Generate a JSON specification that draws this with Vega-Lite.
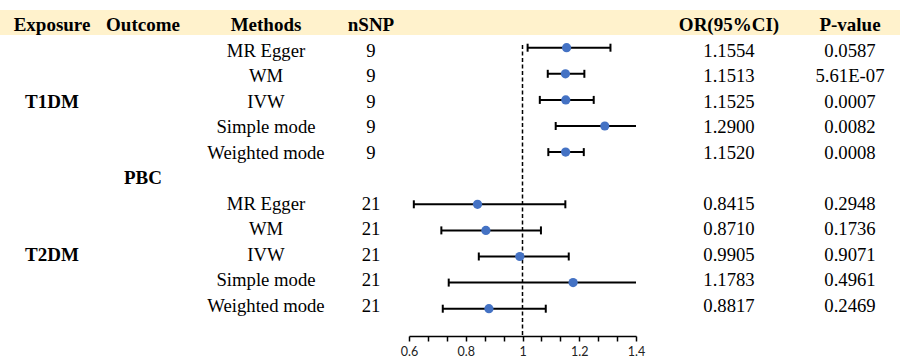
{
  "$schema": "https://vega.github.io/schema/vega-lite/v6.json",
  "width": 900,
  "height": 336,
  "padding": 0,
  "autosize": {"type": "pad"},
  "background": "white",
  "config": {"view": {"stroke": null}},
  "datasets": {
    "mr": [
      {"exposure": "T1DM", "method": "MR Egger", "nsnp": "9", "or": 1.1554, "or_label": "1.1554", "lo": 1.018, "hi": 1.31, "p": "0.0587", "row": 1},
      {"exposure": "T1DM", "method": "WM", "nsnp": "9", "or": 1.1513, "or_label": "1.1513", "lo": 1.089, "hi": 1.218, "p": "5.61E-07", "row": 2},
      {"exposure": "T1DM", "method": "IVW", "nsnp": "9", "or": 1.1525, "or_label": "1.1525", "lo": 1.061, "hi": 1.251, "p": "0.0007", "row": 3},
      {"exposure": "T1DM", "method": "Simple mode", "nsnp": "9", "or": 1.29, "or_label": "1.2900", "lo": 1.117, "hi": 1.49, "p": "0.0082", "row": 4},
      {"exposure": "T1DM", "method": "Weighted mode", "nsnp": "9", "or": 1.152, "or_label": "1.1520", "lo": 1.091, "hi": 1.216, "p": "0.0008", "row": 5},
      {"exposure": "T2DM", "method": "MR Egger", "nsnp": "21", "or": 0.8415, "or_label": "0.8415", "lo": 0.617, "hi": 1.151, "p": "0.2948", "row": 7},
      {"exposure": "T2DM", "method": "WM", "nsnp": "21", "or": 0.871, "or_label": "0.8710", "lo": 0.714, "hi": 1.065, "p": "0.1736", "row": 8},
      {"exposure": "T2DM", "method": "IVW", "nsnp": "21", "or": 0.9905, "or_label": "0.9905", "lo": 0.846, "hi": 1.163, "p": "0.9071", "row": 9},
      {"exposure": "T2DM", "method": "Simple mode", "nsnp": "21", "or": 1.1783, "or_label": "1.1783", "lo": 0.74, "hi": 1.876, "p": "0.4961", "row": 10},
      {"exposure": "T2DM", "method": "Weighted mode", "nsnp": "21", "or": 0.8817, "or_label": "0.8817", "lo": 0.719, "hi": 1.082, "p": "0.2469", "row": 11}
    ],
    "labels": [
      {"text": "Exposure", "col": 0, "row": 0},
      {"text": "Outcome", "col": 1, "row": 0},
      {"text": "Methods", "col": 2, "row": 0},
      {"text": "nSNP", "col": 3, "row": 0},
      {"text": "OR(95%CI)", "col": 4, "row": 0},
      {"text": "P-value", "col": 5, "row": 0},
      {"text": "T1DM", "col": 0, "row": 3},
      {"text": "PBC", "col": 1, "row": 6},
      {"text": "T2DM", "col": 0, "row": 9}
    ]
  },
  "layer": [
    {
      "layer": [
        {
          "data": {"values": [{}]},
          "mark": {"type": "rect", "color": "#FFF2CC"},
          "encoding": {
            "y": {"datum": -0.83, "type": "quantitative", "scale": {"domain": [-1.2235, 11.953], "reverse": true, "nice": false, "zero": false}, "axis": null},
            "y2": {"datum": 0.15}
          }
        },
        {
          "data": {"name": "labels"},
          "mark": {"type": "text", "font": "Liberation Serif", "fontSize": 19, "fontWeight": "bold", "color": "black", "align": "center", "baseline": "alphabetic"},
          "encoding": {
            "x": {"field": "col", "type": "quantitative", "scale": {"domain": [0, 1, 2, 3, 4, 5], "range": [52, 143, 266, 371, 729, 850], "nice": false, "zero": false}, "axis": null},
            "y": {"field": "row", "type": "quantitative", "axis": null},
            "text": {"field": "text"}
          }
        },
        {
          "data": {"name": "mr"},
          "mark": {"type": "text", "font": "Liberation Serif", "fontSize": 18.7, "color": "black", "align": "center", "baseline": "alphabetic"},
          "encoding": {
            "x": {"datum": 2, "type": "quantitative", "axis": null},
            "y": {"field": "row", "type": "quantitative", "axis": null},
            "text": {"field": "method"}
          }
        },
        {
          "data": {"name": "mr"},
          "mark": {"type": "text", "font": "Liberation Serif", "fontSize": 18.7, "color": "black", "align": "center", "baseline": "alphabetic"},
          "encoding": {
            "x": {"datum": 3, "type": "quantitative", "axis": null},
            "y": {"field": "row", "type": "quantitative", "axis": null},
            "text": {"field": "nsnp"}
          }
        },
        {
          "data": {"name": "mr"},
          "mark": {"type": "text", "font": "Liberation Serif", "fontSize": 18.7, "color": "black", "align": "center", "baseline": "alphabetic"},
          "encoding": {
            "x": {"datum": 4, "type": "quantitative", "axis": null},
            "y": {"field": "row", "type": "quantitative", "axis": null},
            "text": {"field": "or_label"}
          }
        },
        {
          "data": {"name": "mr"},
          "mark": {"type": "text", "font": "Liberation Serif", "fontSize": 18.7, "color": "black", "align": "center", "baseline": "alphabetic"},
          "encoding": {
            "x": {"datum": 5, "type": "quantitative", "axis": null},
            "y": {"field": "row", "type": "quantitative", "axis": null},
            "text": {"field": "p"}
          }
        }
      ]
    },
    {
      "layer": [
        {
          "data": {"values": [{}]},
          "mark": {"type": "rule", "strokeDash": [4, 2.5], "color": "black", "strokeWidth": 1.5},
          "encoding": {
            "x": {
              "datum": 1, "type": "quantitative", "title": null,
              "scale": {"domain": [0.6, 1.4], "range": [409, 636], "clamp": true, "nice": false, "zero": false},
              "axis": {
                "values": [0.6, 0.6333, 0.6667, 0.7, 0.7333, 0.7667, 0.8, 0.8333, 0.8667, 0.9, 0.9333, 0.9667, 1, 1.0333, 1.0667, 1.1, 1.1333, 1.1667, 1.2, 1.2333, 1.2667, 1.3, 1.3333, 1.3667, 1.4],
                "format": ".1~f",
                "labelExpr": "abs(datum.value * 5 - round(datum.value * 5)) < 0.01 ? datum.label : ''",
                "title": null,
                "grid": false,
                "orient": "bottom",
                "domainColor": "black",
                "domainWidth": 1.5,
                "tickColor": "black",
                "tickWidth": 1.5,
                "tickSize": 5,
                "labelFont": "Lato",
                "labelFontSize": 12.5,
                "labelColor": "#222222",
                "labelPadding": 4,
                "labelFlush": false,
                "labelOverlap": false,
                "labelBound": false
              }
            },
            "y": {"datum": 0.9, "type": "quantitative", "scale": {"domain": [-0.8276, 12.046], "reverse": true, "nice": false, "zero": false}, "axis": null},
            "y2": {"datum": 12.046}
          }
        },
        {
          "data": {"name": "mr"},
          "mark": {"type": "rule", "color": "black", "strokeWidth": 2},
          "encoding": {
            "x": {"field": "lo", "type": "quantitative", "title": null},
            "x2": {"field": "hi"},
            "y": {"field": "row", "type": "quantitative", "axis": null}
          }
        },
        {
          "data": {"name": "mr"},
          "mark": {"type": "tick", "orient": "vertical", "size": 8, "thickness": 2, "color": "black", "opacity": 1},
          "encoding": {
            "x": {"field": "lo", "type": "quantitative", "title": null},
            "y": {"field": "row", "type": "quantitative", "axis": null}
          }
        },
        {
          "data": {"name": "mr"},
          "transform": [{"filter": "datum.hi <= 1.4"}],
          "mark": {"type": "tick", "orient": "vertical", "size": 8, "thickness": 2, "color": "black", "opacity": 1},
          "encoding": {
            "x": {"field": "hi", "type": "quantitative", "title": null},
            "y": {"field": "row", "type": "quantitative", "axis": null}
          }
        },
        {
          "data": {"name": "mr"},
          "mark": {"type": "circle", "size": 85, "color": "#4472C4", "opacity": 1},
          "encoding": {
            "x": {"field": "or", "type": "quantitative", "title": null},
            "y": {"field": "row", "type": "quantitative", "axis": null}
          }
        }
      ]
    }
  ],
  "resolve": {
    "scale": {"x": "independent", "y": "independent"},
    "axis": {"x": "independent", "y": "independent"}
  }
}
